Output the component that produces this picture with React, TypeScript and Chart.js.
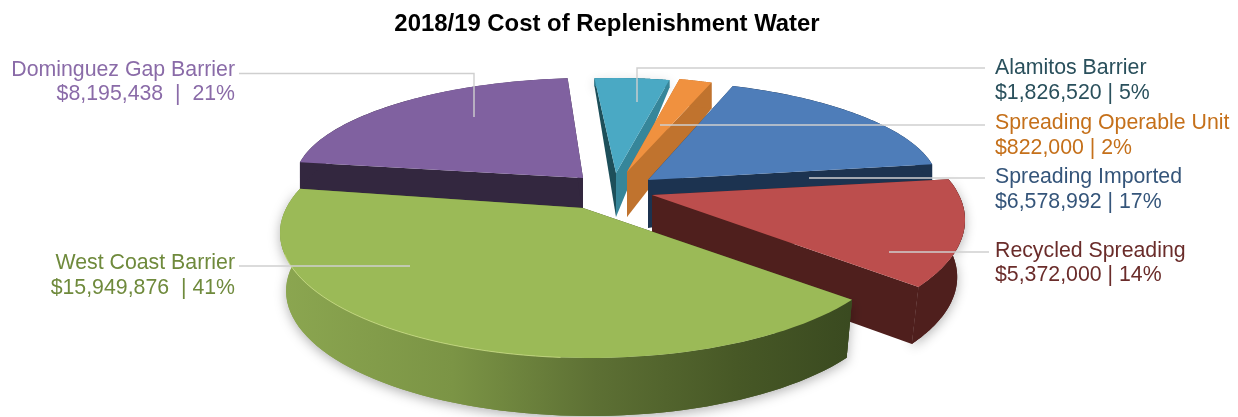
import React, { useEffect, useRef } from "react";
import { Chart, registerables } from "chart.js";

Chart.register(...registerables);

// Replenishment water cost by source, FY 2018/19
const chartTitle = "2018/19 Cost of Replenishment Water";
const sources = [
  "Dominguez Gap Barrier",
  "Alamitos Barrier",
  "Spreading Operable Unit",
  "Spreading Imported",
  "Recycled Spreading",
  "West Coast Barrier",
];
const costs = [8195438, 1826520, 822000, 6578992, 5372000, 15949876];
const costLabels = [
  "$8,195,438  |  21%",
  "$1,826,520 | 5%",
  "$822,000 | 2%",
  "$6,578,992 | 17%",
  "$5,372,000 | 14%",
  "$15,949,876  | 41%",
];

const topColors = ["#8061a0", "#4aa9c4", "#f0913f", "#4e7db9", "#bc4e4d", "#9bba57"];
const startCutColors = ["#33273f", "#1d4f5a", "#c0732e", "#1c3350", "#4f1f1d", "#3d4a20"];
const endCutColors = ["#33273f", "#36869a", "#c0732e", "#1c3350", "#4f1f1d", "#5d7034"];
const textColors = ["#8a6ba8", "#2a505c", "#c5701a", "#35557a", "#6a2c2a", "#6f8a3c"];

// Exploded, perspective look of each wedge: where its apex sits, its on-screen
// radii, a horizontal shear, and how deep its wall is at the apex and at the rim.
// Near wedges have a rim ellipse centred below the apex, so they carry a `rim`.
type Rim = { cx: number; cy: number; rx: number; ry: number; from: number; to: number };
type SliceStyle = {
  tipX: number; tipY: number; rx: number; ry: number; shear: number;
  innerDepth: number; outerDepth: number; taper: number; shadow: number; rim?: Rim;
};
const sliceStyles: SliceStyle[] = [
  { tipX: 583, tipY: 178, rx: 288, ry: 100, shear: -9, innerDepth: 40, outerDepth: 28, taper: 1, shadow: 0 },
  { tipX: 616, tipY: 173, rx: 254, ry: 95, shear: 0, innerDepth: 44, outerDepth: 8, taper: 1, shadow: 0.18 },
  { tipX: 627, tipY: 172, rx: 250, ry: 95, shear: 0, innerDepth: 45, outerDepth: 26, taper: 1, shadow: 0 },
  { tipX: 648, tipY: 180, rx: 290, ry: 100, shear: 14, innerDepth: 48, outerDepth: 20, taper: 1, shadow: 0 },
  {
    tipX: 652, tipY: 195, rx: 306, ry: 138, shear: 43, innerDepth: 56, outerDepth: 57, taper: 0.975, shadow: 0.3,
    rim: { cx: 650, cy: 220, rx: 315, ry: 128, from: -18.6, to: 31.5 },
  },
  {
    tipX: 583, tipY: 208, rx: 297, ry: 147, shear: 60, innerDepth: 58, outerDepth: 58, taper: 0.98, shadow: 0.3,
    rim: { cx: 590, cy: 233, rx: 310, ry: 125, from: 32.3, to: 200.7 },
  },
];

// Label block anchors and the leader line polylines running to each wedge.
const labelAnchors: { x: number; align: CanvasTextAlign; name: number; value: number }[] = [
  { x: 235, align: "right", name: 76, value: 100 },
  { x: 995, align: "left", name: 74, value: 99 },
  { x: 995, align: "left", name: 129, value: 154 },
  { x: 995, align: "left", name: 183, value: 208 },
  { x: 995, align: "left", name: 257, value: 281 },
  { x: 235, align: "right", name: 269, value: 294 },
];
const leaders: [number, number][][] = [
  [[239, 73.5], [474, 73.5], [474, 117]],
  [[985, 68], [637, 68], [637, 102]],
  [[985, 125], [660, 125]],
  [[985, 178], [809, 178]],
  [[989, 252], [889, 252]],
  [[239, 266], [410, 266]],
];

const wallSteps = 72;
const DEG = Math.PI / 180;

function project(arc: any, s: SliceStyle, angle: number, fraction: number, bottom: boolean): [number, number] {
  let x: number;
  let y: number;
  if (s.rim) {
    const share = (angle - arc.startAngle) / (arc.endAngle - arc.startAngle);
    const a = (s.rim.from + (s.rim.to - s.rim.from) * share) * DEG;
    x = s.tipX + (s.rim.cx + s.rim.rx * Math.cos(a) - s.tipX) * fraction;
    y = s.tipY + (s.rim.cy + s.rim.ry * Math.sin(a) - s.tipY) * fraction;
  } else {
    const ux = Math.cos(angle) * fraction;
    const uy = Math.sin(angle) * fraction;
    x = s.tipX + s.rx * ux + s.shear * uy;
    y = s.tipY + s.ry * uy;
  }
  if (!bottom) return [x, y];
  const depth = s.innerDepth + (s.outerDepth - s.innerDepth) * fraction;
  return [s.tipX + (x - s.tipX) * s.taper, y + depth];
}

function rimPoints(arc: any, s: SliceStyle, bottom: boolean): [number, number][] {
  const pts: [number, number][] = [];
  for (let k = 0; k <= wallSteps; k++) {
    const t = arc.startAngle + ((arc.endAngle - arc.startAngle) * k) / wallSteps;
    pts.push(project(arc, s, t, 1, bottom));
  }
  return pts;
}

function fillPoly(ctx: CanvasRenderingContext2D, pts: [number, number][], fill: string | CanvasGradient) {
  ctx.beginPath();
  pts.forEach(([x, y], i) => (i ? ctx.lineTo(x, y) : ctx.moveTo(x, y)));
  ctx.closePath();
  ctx.fillStyle = fill;
  ctx.fill();
}

function wallFill(ctx: CanvasRenderingContext2D, i: number): string | CanvasGradient {
  if (i !== 5) return endCutColors[i];
  const g = ctx.createLinearGradient(283, 0, 850, 0);
  g.addColorStop(0, "#8ba650");
  g.addColorStop(0.3, "#7b9445");
  g.addColorStop(0.55, "#5d7034");
  g.addColorStop(0.8, "#475826");
  g.addColorStop(1, "#3a4a20");
  return g;
}

const wedgePlugin = {
  id: "extrudedWedges",
  beforeDatasetDraw(chart: any, args: any) {
    const ctx: CanvasRenderingContext2D = chart.ctx;
    const arcs = chart.getDatasetMeta(args.index).data;

    // Walls go first, back to front, so that every top face ends up above them.
    arcs.forEach((arc: any, i: number) => {
      const s = sliceStyles[i];
      const outer = [...rimPoints(arc, s, false), ...rimPoints(arc, s, true).reverse()];
      if (s.shadow) {
        ctx.save();
        ctx.shadowColor = `rgba(0,0,0,${s.shadow})`;
        ctx.shadowBlur = 12;
        ctx.shadowOffsetX = 0;
        ctx.shadowOffsetY = 3;
        fillPoly(ctx, outer, wallFill(ctx, i));
        ctx.restore();
      }
      const tipTop = project(arc, s, arc.startAngle, 0, false);
      const tipBottom = project(arc, s, arc.startAngle, 0, true);
      fillPoly(ctx, [tipTop, project(arc, s, arc.startAngle, 1, false), project(arc, s, arc.startAngle, 1, true), tipBottom], startCutColors[i]);
      fillPoly(ctx, [tipTop, project(arc, s, arc.endAngle, 1, false), project(arc, s, arc.endAngle, 1, true), tipBottom], endCutColors[i]);
      fillPoly(ctx, outer, wallFill(ctx, i));
    });

    // Top faces: far wedges are the library's own arcs under an affine projection,
    // near wedges follow their rim ellipse from the arc's start and end angles.
    arcs.forEach((arc: any, i: number) => {
      const s = sliceStyles[i];
      if (s.rim) {
        fillPoly(ctx, [[s.tipX, s.tipY], ...rimPoints(arc, s, false)], arc.options.backgroundColor);
        return;
      }
      const a = s.rx / arc.outerRadius;
      const c = s.shear / arc.outerRadius;
      const d = s.ry / arc.outerRadius;
      ctx.save();
      ctx.transform(a, 0, c, d, s.tipX - a * arc.x - c * arc.y, s.tipY - d * arc.y);
      arc.draw(ctx);
      ctx.restore();
    });

    // Pale bevel along the front rim of the largest wedge.
    const bevel = rimPoints(arcs[5], sliceStyles[5], false).slice(Math.round(wallSteps * 0.38), Math.round(wallSteps * 0.84));
    ctx.beginPath();
    bevel.forEach(([x, y], k) => (k ? ctx.lineTo(x, y) : ctx.moveTo(x, y)));
    ctx.strokeStyle = "#c9dc84";
    ctx.lineWidth = 0.8;
    ctx.stroke();
    return false;
  },
  afterDraw(chart: any) {
    const ctx: CanvasRenderingContext2D = chart.ctx;
    ctx.save();
    ctx.strokeStyle = "#cfcfcf";
    ctx.lineWidth = 1.4;
    leaders.forEach((line) => {
      ctx.beginPath();
      line.forEach(([x, y], i) => (i ? ctx.lineTo(x, y) : ctx.moveTo(x, y)));
      ctx.stroke();
    });
    ctx.font = "21.3px 'Liberation Sans'";
    ctx.textBaseline = "alphabetic";
    sources.forEach((name, i) => {
      const l = labelAnchors[i];
      ctx.textAlign = l.align;
      ctx.fillStyle = textColors[i];
      ctx.fillText(name, l.x, l.name);
      ctx.fillText(costLabels[i], l.x, l.value);
    });
    ctx.restore();
  },
};

export default function App() {
  const canvasRef = useRef<HTMLCanvasElement>(null);

  useEffect(() => {
    const chart = new Chart(canvasRef.current!, {
      type: "pie",
      data: {
        labels: sources,
        datasets: [{ data: costs, backgroundColor: topColors, borderWidth: 0 }],
      },
      options: {
        animation: false,
        responsive: false,
        rotation: 279,
        layout: { padding: { right: 24, top: 8 } },
        plugins: {
          legend: { display: false },
          tooltip: { enabled: false },
          title: {
            display: true,
            text: chartTitle,
            color: "#000000",
            font: { family: "'Liberation Sans'", size: 23.9, weight: "bold" },
            padding: { top: 2, bottom: 4 },
          },
        },
      },
      plugins: [wedgePlugin],
    } as any);
    return () => chart.destroy();
  }, []);

  return (
    <div style={{ position: "absolute", left: 0, top: 0, width: 1238, height: 417, background: "#ffffff" }}>
      <canvas ref={canvasRef} width={1238} height={417} style={{ display: "block" }} />
    </div>
  );
}
